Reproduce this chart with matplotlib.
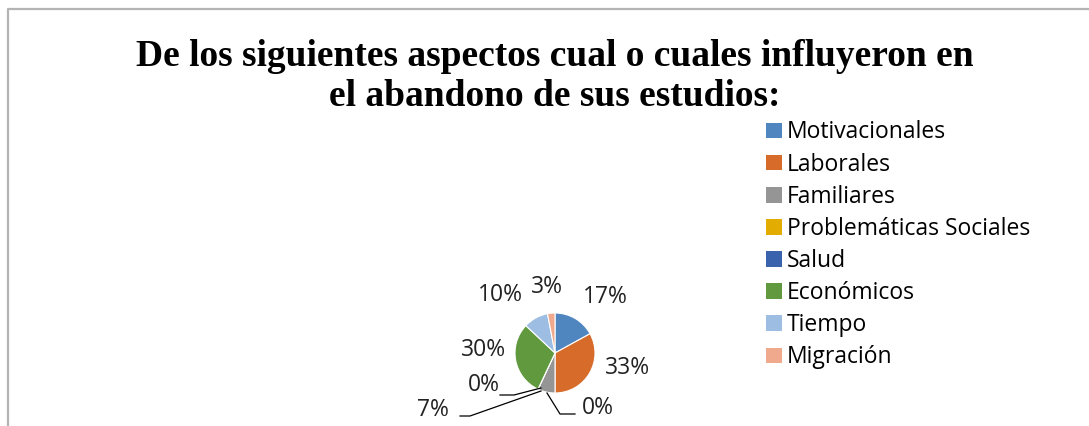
import matplotlib
matplotlib.use("Agg")
import matplotlib.pyplot as plt

# ------------------------------------------------------------------ data
categories = ["Motivacionales", "Laborales", "Familiares", "Problemáticas Sociales",
              "Salud", "Económicos", "Tiempo", "Migración"]
values = [17, 33, 7, 0, 0, 30, 10, 3]
colors = ["#4f86c0", "#d66b2a", "#959595", "#e2ac00",
          "#3a63ad", "#619a3e", "#9dbde3", "#f0a98c"]
title = "De los siguientes aspectos cual o cuales influyeron en\nel abandono de sus estudios:"

W, H = 1089, 426
LABEL_FONT = ["Open Sans", "DejaVu Sans"]
FS = 16.5

fig = plt.figure(figsize=(W / 100, H / 100), dpi=100)
ax = fig.add_axes([0, 0, 1, 1])

# chart border (left and top visible)
ax.plot([7.5, 7.5, W], [0, H - 8.5, H - 8.5], color="#b4b4b4", lw=1.6,
        solid_capstyle="butt")

fig.text(555 / W, 1 - 38.5 / H, title, ha="center", va="top",
         fontsize=27, fontweight="bold", family="Liberation Serif",
         linespacing=1.2)

cx, cy, R = 555, H - 353, 40
wedges, _ = ax.pie(values, colors=colors, startangle=90, counterclock=False,
                   center=(cx, cy), radius=R, frame=True,
                   wedgeprops=dict(edgecolor="white", linewidth=0.8))
ax.set_xlim(0, W)
ax.set_ylim(0, H)
ax.axis("off")

# label positions in pixels (x, y from top)
label_pos = [(605, 297), (627, 368), (433, 410), (484, 385),
             (598, 408), (484, 350), (500, 295), (547, 287)]
for v, (px, py) in zip(values, label_pos):
    ax.text(px, H - py, f"{v}%", ha="center", va="center",
            fontsize=FS, family=LABEL_FONT, color="#222222")

# leader lines for the small slices
leaders = [
    [(460, 416), (470, 416), (541, 391)],   # 7%
    [(500, 395), (514, 395), (541, 388)],   # 0% left
    [(575, 414), (560, 414), (547, 393)],   # 0% right
]
for pts in leaders:
    ax.plot([p[0] for p in pts], [H - p[1] for p in pts],
            color="black", lw=0.9)

leg = fig.legend(wedges, categories, loc="upper left",
                 bbox_to_anchor=(755 / W, 1 - 109 / H), frameon=False,
                 prop=dict(family=LABEL_FONT, size=FS),
                 handlelength=0.68, handleheight=0.68, handletextpad=0.22,
                 labelspacing=0.355, borderpad=0)
for h in leg.legend_handles:
    h.set_edgecolor("none")

fig.savefig("out.png", dpi=100)
